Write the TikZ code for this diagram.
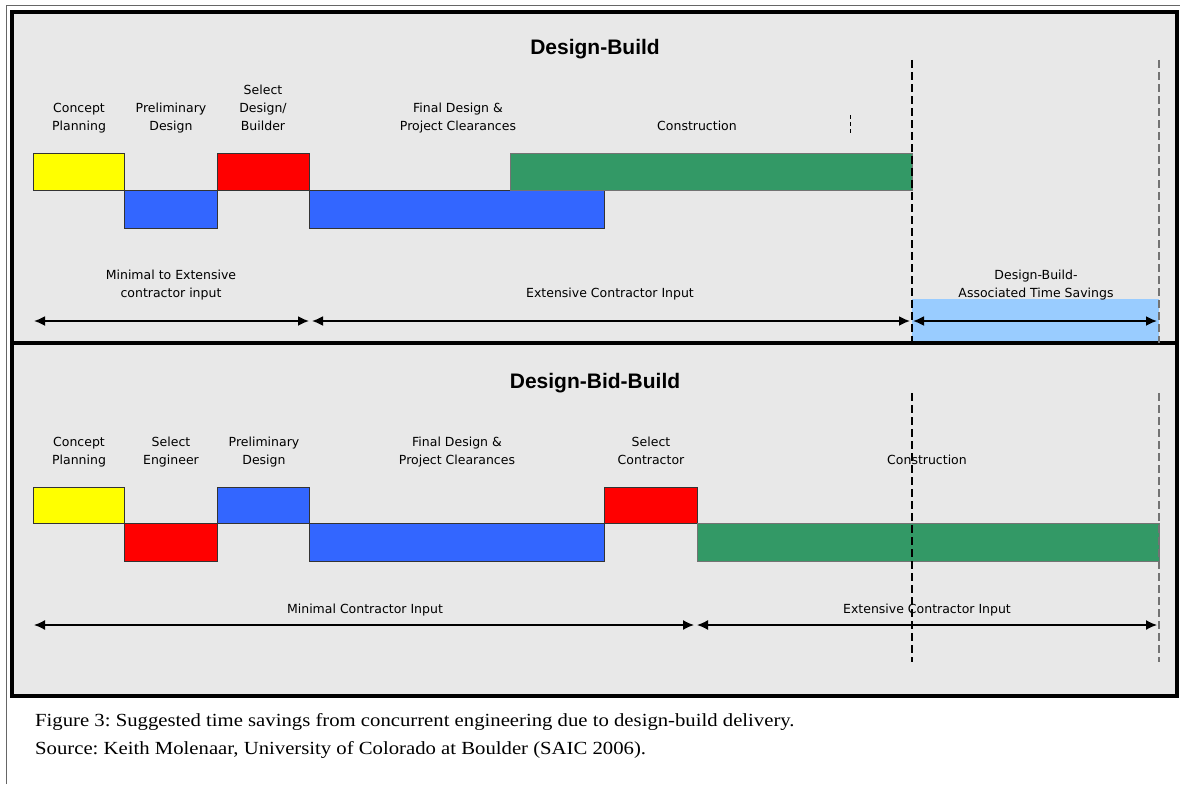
\documentclass[tikz,border=0pt]{standalone}
\usepackage{fontspec}
\setmainfont{Liberation Serif}
\setsansfont{DejaVu Sans}
\newfontfamily\arialfont{Liberation Sans}
\usetikzlibrary{arrows.meta,positioning}
\definecolor{panelgray}{HTML}{E8E8E8}
\definecolor{phaseyellow}{HTML}{FFFF00}
\definecolor{phaseblue}{HTML}{3366FF}
\definecolor{phasered}{HTML}{FF0000}
\definecolor{phasegreen}{HTML}{339966}
\definecolor{savingsblue}{HTML}{99CCFF}
\frenchspacing
\tikzset
{
    phase/.style   = {font=\sffamily\fontsize{12.5}{18}\selectfont, align=center, anchor=base},
    heading/.style = {font=\arialfont\bfseries\fontsize{21}{24}\selectfont, anchor=base},
    caption/.style = {font=\fontsize{18.5}{20}\selectfont, anchor=base west, inner sep=0pt},
    bar/.style     = {draw=black!80, line width=1pt},
    span/.style    = {{Latex[length=11pt,width=10pt]}-{Latex[length=11pt,width=10pt]}, line width=1.8pt},
    cutoff/.style  = {dash pattern=on 8pt off 4pt, line width=1.3pt},
    frame/.style   = {line width=3.5pt}
}

\begin{document}
\begin{tikzpicture}[x=1pt,y=-1pt]
	\useasboundingbox (0,0) rectangle (1180,784);
	\fill[white] (0,0) rectangle (1180,784);
	% panels
	\fill[panelgray] (12,12) rectangle (1177,696);
	\fill[savingsblue] (912,299) rectangle (1159,343);
	\draw[black!60, line width=1pt] (6,784) -- (6,6) -- (1180,6);
	\draw[frame] (12,12) rectangle (1177,696);
	\draw[frame] (12,343) -- (1177,343);

	% Design-Build
	\node[heading] (dbTitle) at (595,55) {Design-Build};
	\node[phase] (dbConcept) at (79,130) {Concept\\Planning};
	\node[phase] (dbPrelim) at (171,130) {Preliminary\\Design};
	\node[phase] (dbSelect) at (263,130) {Select\\Design/\\Builder};
	\node[phase] (dbFinal) at (458,130) {Final Design \&\\Project Clearances};
	\node[phase] (dbBuild) at (697,130) {Construction};
	\draw[bar, fill=phaseyellow] (33,153) rectangle (124,190);
	\draw[bar, fill=phaseblue] (124,190) rectangle (217,228);
	\draw[bar, fill=phasered] (217,153) rectangle (309,190);
	\draw[bar, fill=phaseblue] (309,190) rectangle (604,228);
	\draw[bar, draw=black!55, fill=phasegreen] (510,153) rectangle (912,190);
	\draw[cutoff, line width=1pt, dash pattern=on 4pt off 3pt] (850,115) -- (850,134);
	\node[phase] (dbMinExt) at (171,297) {Minimal to Extensive\\contractor input};
	\node[phase] (dbExt) at (610,297) {Extensive Contractor Input};
	\node[phase] (dbSave) at (1036,297) {Design-Build-\\Associated Time Savings};
	\coordinate (dbA) at (34,321);
	\coordinate (dbB) at (309,321);
	\coordinate (dbC) at (312,321);
	\coordinate (dbD) at (910,321);
	\coordinate (dbE) at (913,321);
	\coordinate (dbF) at (1157,321);
	\draw[span] (dbA) -- (dbB);
	\draw[span] (dbC) -- (dbD);
	\draw[span] (dbE) -- (dbF);

	% Design-Bid-Build
	\node[heading] (dbbTitle) at (595,388) {Design-Bid-Build};
	\node[phase] (dbbConcept) at (79,464) {Concept\\Planning};
	\node[phase] (dbbEngineer) at (171,464) {Select\\Engineer};
	\node[phase] (dbbPrelim) at (264,464) {Preliminary\\Design};
	\node[phase] (dbbFinal) at (457,464) {Final Design \&\\Project Clearances};
	\node[phase] (dbbSelect) at (651,464) {Select\\Contractor};
	\node[phase] (dbbBuild) at (927,464) {Construction};
	\draw[bar, fill=phaseyellow] (33,487) rectangle (124,523);
	\draw[bar, fill=phasered] (124,523) rectangle (217,561);
	\draw[bar, fill=phaseblue] (217,487) rectangle (309,523);
	\draw[bar, fill=phaseblue] (309,523) rectangle (604,561);
	\draw[bar, fill=phasered] (604,487) rectangle (697,523);
	\draw[bar, draw=black!55, fill=phasegreen] (697,523) rectangle (1159,561);
	\node[phase] (dbbMin) at (365,613) {Minimal Contractor Input};
	\node[phase] (dbbExt) at (927,613) {Extensive Contractor Input};
	\coordinate (dbbA) at (34,625);
	\coordinate (dbbB) at (694,625);
	\coordinate (dbbC) at (697,625);
	\coordinate (dbbD) at (1157,625);
	\draw[span, line width=1.4pt] (dbbA) -- (dbbB);
	\draw[span, line width=1.4pt] (dbbC) -- (dbbD);

	% time-savings cut-off lines
	\draw[cutoff] (912,60) -- (912,343);
	\draw[cutoff] (912,393) -- (912,662);
	\draw[cutoff, black!55] (1159,60) -- (1159,343);
	\draw[cutoff, black!55] (1159,393) -- (1159,662);

	% caption
	\node[caption] (figCap) at (35,726) {\scalebox{1.12}[1]{Figure 3: Suggested time savings from concurrent engineering due to design-build delivery.}};
	\node[caption] (figSrc) at (35,754) {\scalebox{1.12}[1]{Source: Keith Molenaar, University of Colorado at Boulder (SAIC 2006).}};
\end{tikzpicture}
\end{document}
